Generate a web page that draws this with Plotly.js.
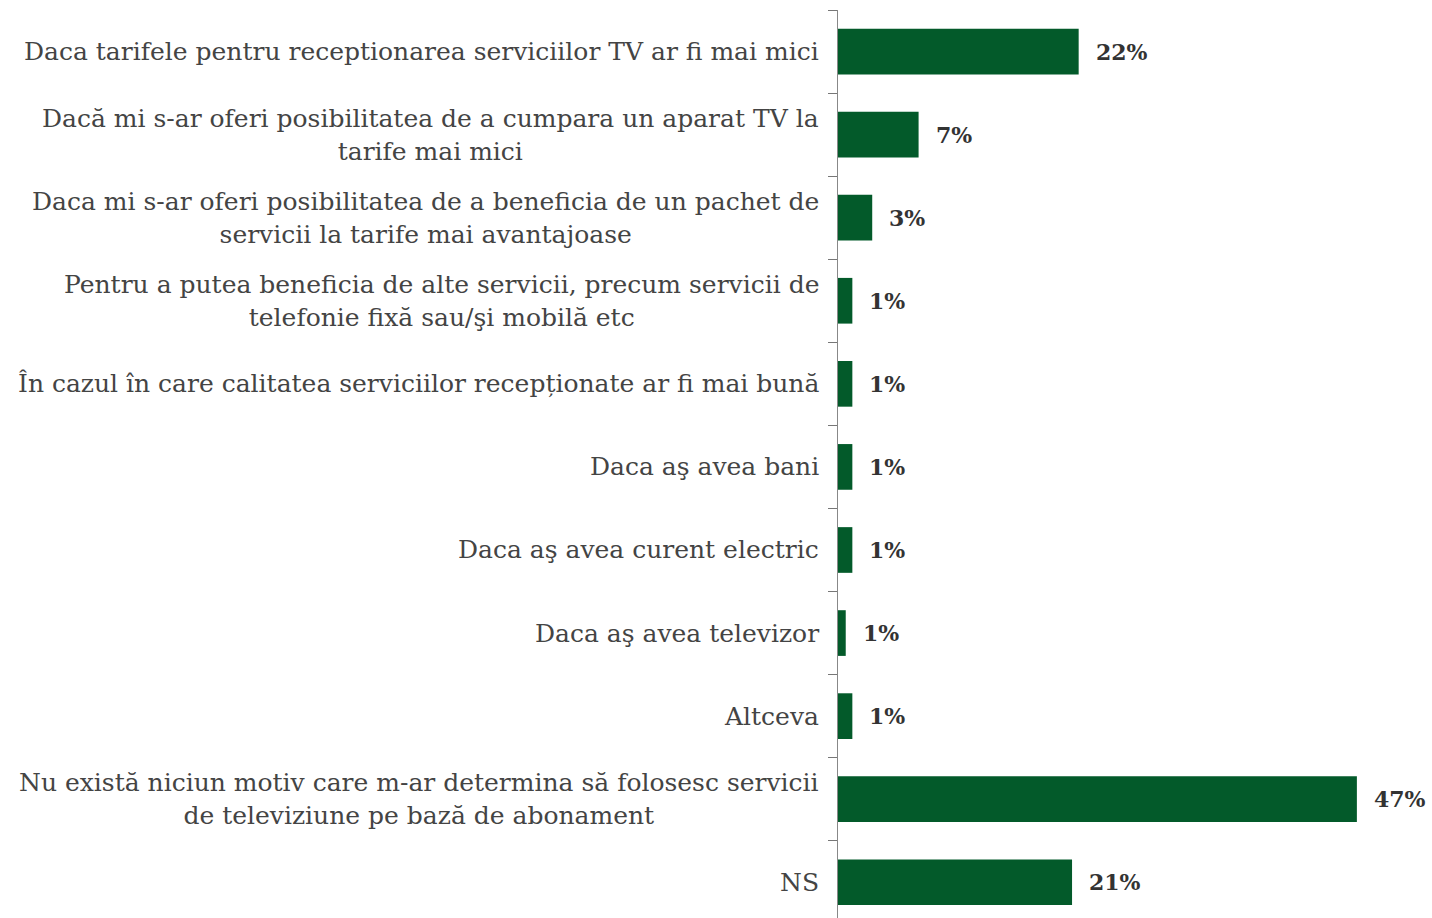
<!DOCTYPE html>
<html>
<head>
<meta charset="utf-8">
<script src="https://cdn.plot.ly/plotly-3.0.1.min.js"></script>
<style>html,body{margin:0;padding:0;background:#fff;}#chart{width:1432px;height:918px;}</style>
</head>
<body>
<div id="chart"></div>
<script>
const categories = [
  "Daca tarifele pentru receptionarea serviciilor TV ar fi mai mici",
  "Dacă mi s-ar oferi posibilitatea de a cumpara un aparat TV la<br>tarife mai mici",
  "Daca mi s-ar oferi posibilitatea de a beneficia de un pachet de<br>servicii la tarife mai avantajoase",
  "Pentru a putea beneficia de alte servicii, precum servicii de<br>telefonie fixă sau/şi mobilă etc",
  "În cazul în care calitatea serviciilor recepționate ar fi mai bună",
  "Daca aş avea bani",
  "Daca aş avea curent electric",
  "Daca aş avea televizor",
  "Altceva",
  "Nu există niciun motiv care m-ar determina să folosesc servicii<br>de televiziune pe bază de abonament",
  "NS"
];
const values = [21.8, 7.3, 3.1, 1.3, 1.3, 1.3, 1.3, 0.7, 1.3, 47.0, 21.2];
const valueLabels = ["22%", "7%", "3%", "1%", "1%", "1%", "1%", "1%", "1%", "47%", "21%"];

const ids = categories.map((c, i) => "c" + i);

const trace = {
  type: "bar",
  orientation: "h",
  x: values,
  y: ids,
  width: 0.55,
  marker: {color: "#035a2a", line: {width: 0}},
  hoverinfo: "skip"
};

const annotations = [];
categories.forEach((c, i) => {
  annotations.push({
    xref: "paper", yref: "y", x: 0, y: ids[i],
    xanchor: "right", yanchor: "middle", xshift: -17,
    text: c, showarrow: false, align: "center",
    font: {family: "DejaVu Serif, serif", size: 25, color: "#444444"}
  });
  annotations.push({
    xref: "x", yref: "y", x: values[i], y: ids[i],
    xanchor: "left", yanchor: "middle", xshift: 15,
    text: "<b>" + valueLabels[i] + "</b>", showarrow: false,
    font: {family: "DejaVu Serif, serif", size: 22, color: "#333333"}
  });
});

const layout = {
  width: 1432, height: 918,
  margin: {l: 838, r: 42, t: 10, b: 0},
  paper_bgcolor: "#ffffff", plot_bgcolor: "#ffffff",
  showlegend: false,
  xaxis: {range: [0, 50], visible: false, fixedrange: true},
  yaxis: {
    type: "category", range: [10.43, -0.5],
    showticklabels: false, tickson: "boundaries",
    ticks: "outside", ticklen: 9, tickcolor: "#777", tickwidth: 1,
    showline: true, linecolor: "#888", linewidth: 1,
    showgrid: false, zeroline: false
  },
  annotations: annotations
};

Plotly.newPlot("chart", [trace], layout, {staticPlot: true, displayModeBar: false});
</script>
</body>
</html>
